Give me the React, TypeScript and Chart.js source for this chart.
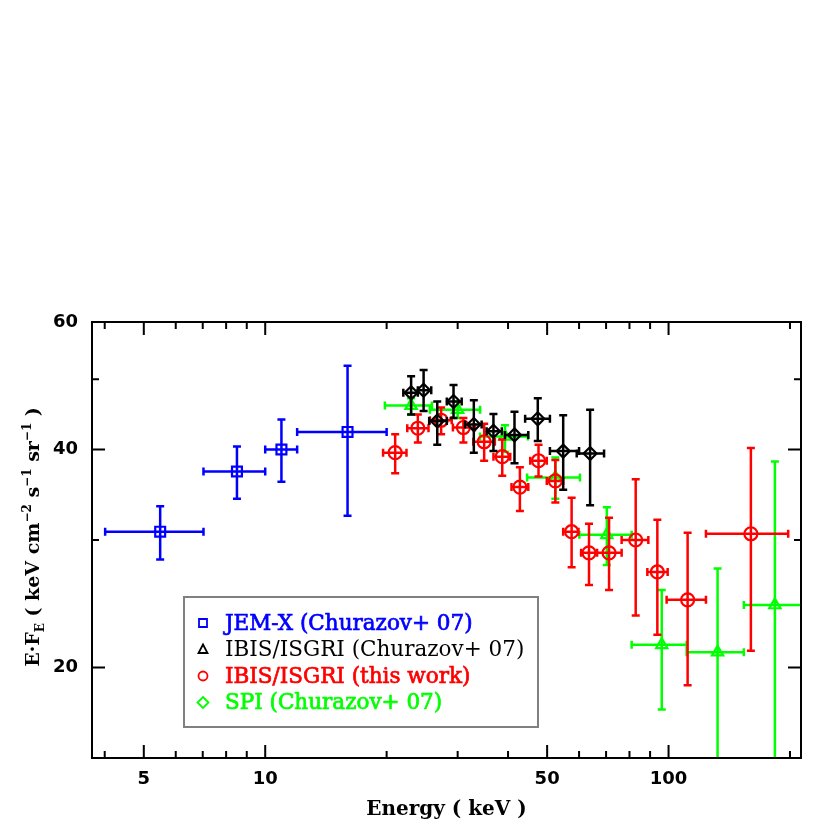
import React, { useEffect, useRef } from 'react';
import { Chart, registerables } from 'chart.js';

Chart.register(...registerables);

// ---------- data (keV, keV cm^-2 s^-1 sr^-1) ----------
const jemxE = [5.49, 8.51, 10.97, 16.0];
const jemxElo = [4.01, 7.03, 10.0, 12.0];
const jemxEhi = [7.03, 10.0, 12.0, 20.0];
const jemxF = [30.8, 37.3, 40.0, 42.3];
const jemxFlo = [28.2, 34.2, 36.1, 32.4];
const jemxFhi = [33.4, 40.4, 44.0, 52.2];

const ibisChE = [23.0, 24.7, 26.7, 29.3, 32.9, 36.8, 41.5, 47.4, 54.8, 63.9];
const ibisChElo = [22.0, 23.9, 25.5, 28.2, 31.3, 35.4, 39.3, 44.1, 50.8, 59.2];
const ibisChEhi = [23.9, 25.8, 28.2, 30.7, 34.4, 38.6, 44.9, 50.8, 60.0, 69.2];
const ibisChF = [47.9, 48.3, 43.8, 46.6, 43.3, 42.4, 41.9, 44.1, 39.8, 39.5];
const ibisChFlo = [44.7, 45.2, 40.6, 44.2, 39.6, 39.8, 38.3, 41.1, 35.2, 33.5];
const ibisChFhi = [50.5, 51.5, 46.6, 49.1, 46.8, 44.8, 45.1, 47.1, 44.6, 45.4];

const ibisE = [21.0, 23.9, 27.3, 31.0, 34.9, 38.7, 42.8, 47.6, 52.4, 57.5, 63.5, 71.2, 82.9, 93.8, 111.5, 160];
const ibisElo = [19.6, 22.5, 25.6, 29.2, 32.8, 36.8, 40.8, 45.4, 49.9, 54.8, 60.7, 66.4, 76.5, 88.6, 98.9, 123.8];
const ibisEhi = [22.4, 25.4, 29.0, 33.1, 37.1, 40.5, 44.9, 49.9, 54.8, 59.8, 66.5, 76.5, 89.1, 99.5, 123.8, 198];
const ibisF = [39.6, 42.8, 43.9, 42.9, 41.0, 39.1, 35.5, 38.6, 36.2, 30.8, 28.8, 28.8, 30.0, 27.1, 24.8, 30.6];
const ibisFlo = [37.1, 40.9, 42.0, 40.9, 38.6, 36.8, 32.9, 36.7, 33.8, 27.5, 26.0, 25.6, 23.6, 22.2, 18.9, 21.1];
const ibisFhi = [42.0, 44.7, 45.7, 44.2, 43.4, 41.3, 37.8, 40.6, 38.7, 34.3, 31.6, 32.2, 36.4, 32.0, 30.7, 40.2];

const spiE = [23.0, 30.0, 39.3, 52.4, 70.3, 96.2, 132.3, 183.5];
const spiElo = [19.8, 25.6, 34.1, 44.6, 60.1, 81.0, 110.9, 153.7];
const spiEhi = [25.9, 34.1, 44.8, 60.3, 81.0, 110.9, 153.7, 235];
const spiF = [46.0, 45.4, 41.7, 36.6, 30.5, 21.5, 21.0, 24.4];
const spiFlo = [44.7, 44.2, 39.7, 34.2, 27.7, 17.5, 13.0, 13.0];
const spiFhi = [47.1, 46.6, 43.2, 39.0, 33.3, 25.6, 27.4, 38.5];

// ---------- axes ----------
const xMin = 3.72;
const xMax = 213;
const yMin = 15;
const yMax = 60;
const xTickLabels = [5, 10, 50, 100];
const xMinorTicks = [4, 6, 7, 8, 9, 20, 30, 40, 60, 70, 80, 90, 200];
const yTickLabels = [20, 40, 60];
const yMinorTicks = [30, 50];

// ---------- legend ----------
const legendLabels = ['JEM-X (Churazov+ 07)', 'IBIS/ISGRI (Churazov+ 07)', 'IBIS/ISGRI (this work)', 'SPI (Churazov+ 07)'];
const legendColors = ['#0000ff', '#000000', '#ff0000', '#00ff00'];
const legendSymbols = ['square', 'triangle', 'circle', 'diamond'];
const legendHeavy = [true, false, true, true];

function build(E: number[], Elo: number[], Ehi: number[], F: number[], Flo: number[], Fhi: number[]) {
  return E.map((e, i) => ({ x: e, y: F[i], xMin: Elo[i], xMax: Ehi[i], yMin: Flo[i], yMax: Fhi[i] }));
}

const CAP = 4;

const errorBarPlugin = {
  id: 'errorBars',
  beforeDatasetDraw(chart: any, args: any) {
    const ds = chart.data.datasets[args.index];
    const xs = chart.scales.x;
    const ys = chart.scales.y;
    const ctx = chart.ctx;
    const ca = chart.chartArea;
    ctx.save();
    ctx.beginPath();
    ctx.rect(ca.left, ca.top, ca.right - ca.left, ca.bottom - ca.top);
    ctx.clip();
    ctx.strokeStyle = ds.borderColor;
    ctx.lineWidth = 2.5;
    ctx.beginPath();
    for (const p of ds.data) {
      const cx = xs.getPixelForValue(p.x);
      const cy = ys.getPixelForValue(p.y);
      const x0 = xs.getPixelForValue(p.xMin);
      const x1 = xs.getPixelForValue(p.xMax);
      const y0 = ys.getPixelForValue(p.yMin);
      const y1 = ys.getPixelForValue(p.yMax);
      ctx.moveTo(x0, cy); ctx.lineTo(x1, cy);
      ctx.moveTo(x0, cy - CAP); ctx.lineTo(x0, cy + CAP);
      ctx.moveTo(x1, cy - CAP); ctx.lineTo(x1, cy + CAP);
      ctx.moveTo(cx, y0); ctx.lineTo(cx, y1);
      ctx.moveTo(cx - CAP, y0); ctx.lineTo(cx + CAP, y0);
      ctx.moveTo(cx - CAP, y1); ctx.lineTo(cx + CAP, y1);
    }
    ctx.stroke();
    ctx.restore();
  },
};

const framePlugin = {
  id: 'frame',
  afterDraw(chart: any) {
    const ctx = chart.ctx;
    const ca = chart.chartArea;
    const xs = chart.scales.x;
    const ys = chart.scales.y;
    ctx.save();
    ctx.strokeStyle = '#000';
    ctx.lineWidth = 2;
    ctx.beginPath();
    const MAJ = 13, MIN = 7;
    const xt = (v: number, len: number) => {
      const px = xs.getPixelForValue(v);
      ctx.moveTo(px, ca.bottom); ctx.lineTo(px, ca.bottom - len);
      ctx.moveTo(px, ca.top); ctx.lineTo(px, ca.top + len);
    };
    const yt = (v: number, len: number) => {
      const py = ys.getPixelForValue(v);
      ctx.moveTo(ca.left, py); ctx.lineTo(ca.left + len, py);
      ctx.moveTo(ca.right, py); ctx.lineTo(ca.right - len, py);
    };
    xTickLabels.forEach((v) => xt(v, MAJ));
    xMinorTicks.forEach((v) => xt(v, MIN));
    yTickLabels.forEach((v) => yt(v, MAJ));
    yMinorTicks.forEach((v) => yt(v, MIN));
    ctx.stroke();
    ctx.strokeRect(ca.left, ca.top, ca.right - ca.left, ca.bottom - ca.top);

    // x title
    ctx.fillStyle = '#000';
    ctx.font = 'bold 20px "DejaVu Serif"';
    ctx.textAlign = 'center';
    ctx.textBaseline = 'alphabetic';
    ctx.fillText('Energy ( keV )', (ca.left + ca.right) / 2, ca.bottom + 57);

    // y title (rotated, with sub/superscripts)
    const big = 'bold 19px "DejaVu Serif"';
    const small = 'bold 12px "DejaVu Serif"';
    const parts: [string, string, number][] = [
      ['E·F', big, 0],
      ['E', small, 5],
      [' ( keV cm', big, 0],
      ['−2', small, -8],
      [' s', big, 0],
      ['−1', small, -8],
      [' sr', big, 0],
      ['−1', small, -8],
      [' )', big, 0],
    ];
    let total = 0;
    for (const [t, f] of parts) { ctx.font = f; total += ctx.measureText(t).width; }
    ctx.translate(39, (ca.top + ca.bottom) / 2 - 3);
    ctx.rotate(-Math.PI / 2);
    ctx.textAlign = 'left';
    let x = -total / 2;
    for (const [t, f, dy] of parts) {
      ctx.font = f;
      ctx.fillText(t, x, dy);
      x += ctx.measureText(t).width;
    }
    ctx.restore();
  },
};

const legendPlugin = {
  id: 'boxLegend',
  afterDraw(chart: any) {
    const ctx = chart.ctx;
    const ca = chart.chartArea;
    const bx = ca.left + 92;
    const by = ca.top + 275;
    const bw = 354;
    const bh = 130;
    ctx.save();
    ctx.fillStyle = '#fff';
    ctx.fillRect(bx, by, bw, bh);
    ctx.strokeStyle = '#808080';
    ctx.lineWidth = 2;
    ctx.strokeRect(bx, by, bw, bh);
    ctx.textBaseline = 'middle';
    ctx.textAlign = 'left';
    legendLabels.forEach((lab, i) => {
      const cy = by + 26 + i * 26.5;
      const sx = bx + 19;
      ctx.strokeStyle = legendColors[i];
      ctx.fillStyle = legendColors[i];
      ctx.lineWidth = 1.8;
      ctx.beginPath();
      const s = legendSymbols[i];
      if (s === 'square') {
        ctx.rect(sx - 4, cy - 4, 8, 8);
      } else if (s === 'triangle') {
        ctx.moveTo(sx, cy - 5); ctx.lineTo(sx + 4.5, cy + 3.5); ctx.lineTo(sx - 4.5, cy + 3.5); ctx.closePath();
      } else if (s === 'circle') {
        ctx.arc(sx, cy, 4.5, 0, Math.PI * 2);
      } else {
        ctx.moveTo(sx, cy - 5.5); ctx.lineTo(sx + 5.5, cy); ctx.lineTo(sx, cy + 5.5); ctx.lineTo(sx - 5.5, cy); ctx.closePath();
      }
      ctx.stroke();
      ctx.font = '21.5px "DejaVu Serif"';
      ctx.fillText(lab, bx + 41, cy + 1);
      if (legendHeavy[i]) {
        ctx.lineWidth = 0.7;
        ctx.strokeText(lab, bx + 41, cy + 1);
      }
    });
    ctx.restore();
  },
};

export default function App() {
  const ref = useRef<HTMLCanvasElement | null>(null);
  useEffect(() => {
    if (!ref.current) return;
    const common = { showLine: false, backgroundColor: 'rgba(0,0,0,0)', pointBorderWidth: 2.2 };
    const chart = new Chart(ref.current, {
      type: 'scatter',
      data: {
        datasets: [
          { ...common, label: legendLabels[0], data: build(jemxE, jemxElo, jemxEhi, jemxF, jemxFlo, jemxFhi), borderColor: '#0000ff', pointStyle: 'rect', pointRadius: 7, pointHoverRadius: 7 },
          { ...common, label: legendLabels[1], data: build(ibisChE, ibisChElo, ibisChEhi, ibisChF, ibisChFlo, ibisChFhi), borderColor: '#000000', pointStyle: 'rectRot', pointRadius: 6.5, pointHoverRadius: 6.5 },
          { ...common, label: legendLabels[2], data: build(ibisE, ibisElo, ibisEhi, ibisF, ibisFlo, ibisFhi), borderColor: '#ff0000', pointStyle: 'circle', pointRadius: 6.5, pointHoverRadius: 6.5 },
          { ...common, label: legendLabels[3], data: build(spiE, spiElo, spiEhi, spiF, spiFlo, spiFhi), borderColor: '#00ff00', pointStyle: 'triangle', pointRadius: 6.5, pointHoverRadius: 6.5 },
        ] as any,
      },
      options: {
        animation: false,
        responsive: false,
        events: [],
        layout: { padding: { top: 322, right: 29, left: 0, bottom: 0 } },
        plugins: { legend: { display: false }, tooltip: { enabled: false } },
        scales: {
          x: {
            type: 'logarithmic',
            min: xMin,
            max: xMax,
            grid: { display: false, drawTicks: false },
            border: { display: false },
            afterBuildTicks: (s: any) => { s.ticks = xTickLabels.map((v) => ({ value: v })); },
            afterFit: (s: any) => { s.height = 63; },
            ticks: {
              autoSkip: false,
              maxRotation: 0,
              padding: 11,
              color: '#000',
              font: { family: '"DejaVu Sans"', weight: 'bold', size: 18 },
              callback: (v: any) => String(v),
            },
          },
          y: {
            type: 'logarithmic',
            min: yMin,
            max: yMax,
            grid: { display: false, drawTicks: false },
            border: { display: false },
            afterBuildTicks: (s: any) => { s.ticks = yTickLabels.map((v) => ({ value: v })); },
            afterFit: (s: any) => { s.width = 92; },
            ticks: {
              autoSkip: false,
              padding: 14,
              color: '#000',
              font: { family: '"DejaVu Sans"', weight: 'bold', size: 18 },
              callback: (v: any) => String(v),
            },
          },
        },
      } as any,
      plugins: [errorBarPlugin, framePlugin, legendPlugin],
    });
    return () => chart.destroy();
  }, []);
  return (
    <div style={{ position: 'absolute', left: 0, top: 0, width: 830, height: 821 }}>
      <canvas ref={ref} width={830} height={821} style={{ display: 'block' }} />
    </div>
  );
}
